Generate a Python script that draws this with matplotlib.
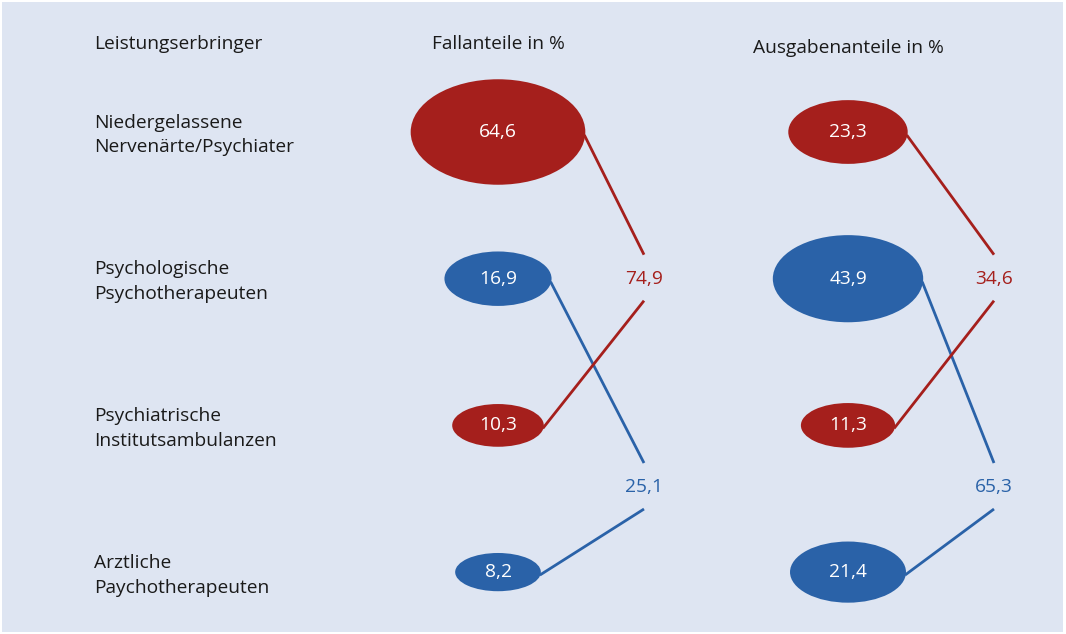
import matplotlib
matplotlib.use("Agg")
import matplotlib.pyplot as plt
from matplotlib.patches import Ellipse, Rectangle
import numpy as np

# ---------------- data ----------------
providers = [
    "Niedergelassene\nNervenärte/Psychiater",
    "Psychologische\nPsychotherapeuten",
    "Psychiatrische\nInstitutsambulanzen",
    "Arztliche\nPaychotherapeuten",
]
provider_group = ["aerzte", "psycho", "aerzte", "psycho"]
fall_share = [64.6, 16.9, 10.3, 8.2]       # Fallanteile in %
spend_share = [23.3, 43.9, 11.3, 21.4]     # Ausgabenanteile in %
header_provider = "Leistungserbringer"
header_fall = "Fallanteile in %"
header_spend = "Ausgabenanteile in %"

# ---------------- style / layout ----------------
RED = "#a51f1c"
BLUE = "#2a62a8"
BG = "#dee5f2"
TXT = "#1a1a1a"
FONT = ["Open Sans", "DejaVu Sans"]
FS = 13.8
group_color = {"aerzte": RED, "psycho": BLUE}
# position (in row units) of the group sum label
sum_row = {"aerzte": 1.0, "psycho": 2.42}

row0, drow = 132, 146.7
label_x = 94
col_fall_x, col_spend_x = 498, 848
sum_fall_x, sum_spend_x = 644, 994

def fmt(v):
    return f"{v:.1f}".replace(".", ",")

def ell_size(v):
    s = np.sqrt(v)
    return 36.4 + 17.2 * s, 1.0 + 13.0 * s

fig = plt.figure(figsize=(10.66, 6.34), dpi=100)
ax = fig.add_axes([0, 0, 1, 1])
ax.set_xlim(0, 1066)
ax.set_ylim(634, 0)
ax.axis("off")
ax.add_patch(Rectangle((2, 2), 1061, 630, fc=BG, ec="none", zorder=0))

# headers
ax.text(label_x, 44, header_provider, ha="left", va="center",
        fontsize=FS, color=TXT, family=FONT)
ax.text(col_fall_x, 44, header_fall, ha="center", va="center",
        fontsize=FS, color=TXT, family=FONT)
ax.text(col_spend_x, 48, header_spend, ha="center", va="center",
        fontsize=FS, color=TXT, family=FONT)

# row labels
for i, name in enumerate(providers):
    y = row0 + i * drow
    ax.text(label_x, y + 3, name, ha="left", va="center", fontsize=FS,
            color=TXT, family=FONT, linespacing=1.5)

def draw_column(values, cx, sx):
    sums = {}
    for g in group_color:
        sums[g] = sum(v for v, gg in zip(values, provider_group) if gg == g)
    # sum labels
    for g, tot in sums.items():
        sy = row0 + sum_row[g] * drow
        ax.text(sx, sy, fmt(tot), ha="center", va="center", fontsize=FS,
                color=group_color[g], family=FONT, zorder=4)
    for i, (v, g) in enumerate(zip(values, provider_group)):
        y = row0 + i * drow
        w, h = ell_size(v)
        col = group_color[g]
        ax.add_patch(Ellipse((cx, y), w, h, fc=col, ec="none", zorder=3))
        ax.text(cx, y, fmt(v), ha="center", va="center", fontsize=FS,
                color="white", family=FONT, zorder=4)
        sy = row0 + sum_row[g] * drow
        ex = sx
        ey = sy - 24 if sy > y else sy + 22
        ax.plot([cx + w / 2 - 1, ex], [y + 3, ey], color=col, lw=2,
                solid_capstyle="butt", zorder=2)

draw_column(fall_share, col_fall_x, sum_fall_x)
draw_column(spend_share, col_spend_x, sum_spend_x)

fig.savefig("out.png", dpi=100, facecolor="white")
